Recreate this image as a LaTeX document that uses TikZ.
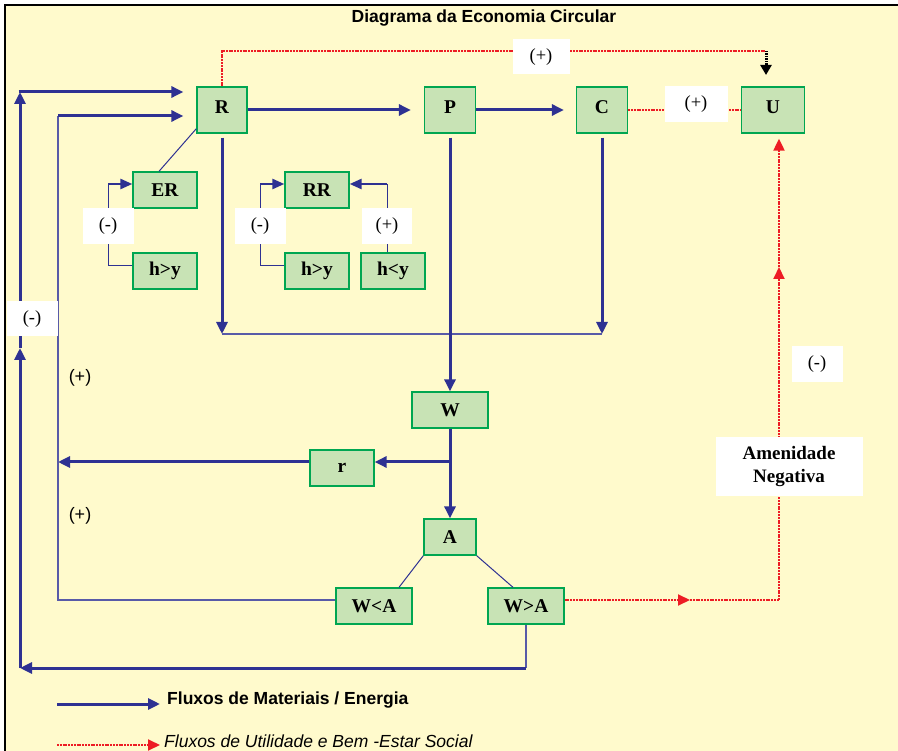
\documentclass[tikz,border=0pt]{standalone}
\usepackage{fontspec}
\setmainfont{Liberation Serif}
\setsansfont{Liberation Sans}
\usetikzlibrary{arrows.meta}
\usetikzlibrary{calc}
\definecolor{bgyellow}{RGB}{255,250,204}
\definecolor{boxgreen}{RGB}{200,227,181}
\definecolor{edgegreen}{RGB}{0,166,81}
\definecolor{flowblue}{RGB}{46,49,146}
\definecolor{utilred}{RGB}{237,28,36}

\begin{document}
\begin{tikzpicture}[x=1pt, y=-1pt,
        node_style/.style={rectangle,draw=edgegreen,line width=1.3pt,fill=boxgreen,inner sep=0pt,minimum width=64pt,minimum height=36pt,font=\fontsize{19.5}{22}\selectfont\bfseries},
        tall_node_style/.style={node_style,minimum width=51pt,minimum height=46pt,text depth=6.5pt},
        sign_style/.style={rectangle,fill=white,inner sep=0pt,minimum width=51pt,minimum height=36pt,font=\fontsize{18.5}{20}\selectfont},
        plain_sign_style/.style={inner sep=0pt,font=\sffamily\fontsize{18}{20}\selectfont},
        title_style/.style={inner sep=0pt,font=\sffamily\fontsize{17.5}{20}\selectfont\bfseries},
        legend_style/.style={inner sep=0pt,anchor=west,font=\sffamily\fontsize{17.5}{20}\selectfont},
        flow_style/.style={draw=flowblue, line width=3pt, -{Triangle[length=12pt,width=11pt]}},
        feedback_style/.style={draw=flowblue, line width=2.5pt, -{Triangle[length=12pt,width=10pt]}},
        link_style/.style={draw=flowblue, line width=1pt},
        loop_style/.style={draw=flowblue!80, line width=1.6pt},
        util_style/.style={draw=utilred, line width=2pt, dash pattern=on 2pt off 0.8pt},
        util_arrow_style/.style={util_style, -{Triangle[length=12pt,width=11pt]}},
        pointer_style/.style={draw=black, line width=3pt, dash pattern=on 1.5pt off 1pt, -{Triangle[length=10pt,width=11pt]}}]

        \useasboundingbox (0,0) rectangle (898,751);
        \fill [bgyellow] (5,5) rectangle (898,751);
        \draw [black, line width=2pt] (5,751) -- (5,5) -- (898,5);

        \node [title_style] (title) at (484,18) {Diagrama da Economia Circular};

        \node [tall_node_style, minimum width=50pt] (R) at (222,110) {R};

        \node [tall_node_style] (P) at (450,110) {P};

        \node [tall_node_style] (C) at (602,110) {C};

        \node [tall_node_style, minimum width=63pt] (U) at (773,110) {U};

        \node [node_style] (ER) at (165,190) {ER};

        \node [node_style] (hgy_er) at (165,271) {h>y};

        \node [node_style] (RR) at (317,190) {RR};

        \node [node_style] (hgy_rr) at (317,271) {h>y};

        \node [node_style] (hly_rr) at (393,271) {h<y};

        \node [node_style, minimum width=76pt] (W) at (450,410) {W};

        \node [node_style] (r) at (342,468) {r};

        \node [node_style, minimum width=52pt] (A) at (450,537) {A};

        \node [node_style, minimum width=76pt] (WlA) at (374,606) {W<A};

        \node [node_style, minimum width=76pt] (WgA) at (526,606) {W>A};

        \coordinate (out_tl) at (20,92);
        \coordinate (out_mid) at (20,348);
        \coordinate (out_bl) at (20,668);
        \coordinate (out_br) at (526,668);
        \coordinate (in_tl) at (58,116);
        \coordinate (in_r) at (58,462);
        \coordinate (in_bl) at (58,600);
        \coordinate (w_r) at (450,462);
        \coordinate (r_down) at (222,334);
        \coordinate (c_down) at (602,334);
        \coordinate (er_top) at (108,184);
        \coordinate (er_bot) at (108,266);
        \coordinate (rr_top) at (260,184);
        \coordinate (rr_bot) at (260,266);
        \coordinate (rr_right) at (387,184);
        \coordinate (amen_mid) at (690,600);
        \coordinate (amen_corner) at (779,600);
        \coordinate (amen_up) at (779,267);
        \coordinate (top_left) at (222,51);
        \coordinate (top_right) at (766,51);
        \coordinate (top_tip) at (766,75);

        \draw [flow_style, shorten >=13pt] (R.east) -- (P.west);

        \draw [flow_style, shorten >=12pt] (P.east) -- (C.west);

        \draw [flow_style] ([yshift=-4pt]R.south) -- (r_down);

        \draw [loop_style] (r_down) -- (c_down);

        \draw [flow_style] ([yshift=-4pt]C.south) -- (c_down);

        \draw [flow_style] ([yshift=-4pt]P.south) -- (W.north);

        \draw [flow_style] (W.south) -- (A.north);

        \draw [flow_style] (w_r) -- (r.east |- w_r);

        \draw [flow_style] (r.west |- in_r) -- (in_r);

        \draw [link_style] ([yshift=5pt]R.south west) -- ([xshift=-6pt]ER.north);

        \draw [link_style] (hgy_er.west |- er_bot) -- (er_bot) -- (er_top);

        \draw [feedback_style] (er_top) -- (ER.west |- er_top);

        \draw [link_style] (hgy_rr.west |- rr_bot) -- (rr_bot) -- (rr_top);

        \draw [feedback_style] (rr_top) -- (RR.west |- rr_top);

        \draw [link_style] (hly_rr.north -| rr_right) -- (rr_right);

        \draw [feedback_style] (rr_right) -- (RR.east |- rr_right);

        \draw [link_style] (A.south west) -- ([xshift=25pt]WlA.north);

        \draw [link_style] (A.south east) -- ([xshift=-13pt]WgA.north);

        \draw [loop_style] (WlA.west |- in_bl) -- (in_bl) -- (in_tl);

        \draw [flow_style, shorten >=13pt] (in_tl) -- (R.west |- in_tl);

        \draw [loop_style] (WgA.south) -- (out_br);

        \draw [flow_style] (out_br) -- (out_bl);

        \draw [flow_style] (out_bl) -- (out_mid);

        \draw [flow_style] (out_mid) -- (out_tl);

        \draw [flow_style, shorten >=13pt] ([xshift=-1.5pt]out_tl) -- (R.west |- out_tl);

        \draw [util_arrow_style] (WgA.east |- amen_mid) -- (amen_mid);

        \draw [util_style] (amen_mid) -- (amen_corner);

        \draw [util_arrow_style] (amen_corner) -- (amen_up);

        \draw [util_arrow_style, shorten >=5pt] (amen_up) -- (amen_corner |- U.south);

        \draw [util_style] (R.north) -- (top_left) -- (top_right);

        \draw [pointer_style] (top_right) -- (top_tip);

        \draw [util_style] (C.east) -- (U.west);

        \node [sign_style, minimum width=57pt, minimum height=35pt] (s_top) at (541,57) {(+)};

        \node [sign_style, minimum width=63pt] (s_cu) at (696,104) {(+)};

        \node [sign_style, minimum height=35pt] (s_out) at (32,319) {(-)};

        \node [sign_style] (s_er) at (108,226) {(-)};

        \node [sign_style] (s_rr1) at (260,226) {(-)};

        \node [sign_style, minimum width=50pt] (s_rr2) at (387,226) {(+)};

        \node [sign_style] (s_amen) at (817,364) {(-)};

        \node [sign_style, minimum width=147pt, minimum height=59pt, align=center, font=\fontsize{19}{23}\selectfont\bfseries] (amen) at (789,467) {Amenidade\\Negativa};

        \node [plain_sign_style] (p_in1) at (80,378) {(+)};

        \node [plain_sign_style] (p_in2) at (80,516) {(+)};

        \coordinate (leg_flow_a) at (57,704);
        \coordinate (leg_flow_b) at (160,704);
        \coordinate (leg_util_a) at (57,745);
        \coordinate (leg_util_b) at (160,745);

        \draw [flow_style] (leg_flow_a) -- (leg_flow_b);

        \node [legend_style, font=\sffamily\fontsize{17.5}{20}\selectfont\bfseries] (leg_flow) at (167,700) {Fluxos de Materiais / Energia};

        \draw [util_arrow_style] (leg_util_a) -- (leg_util_b);

        \node [legend_style, font=\sffamily\fontsize{17.5}{20}\selectfont\itshape] (leg_util) at (164,741) {Fluxos de Utilidade e Bem -Estar Social};

        \end{tikzpicture}
\end{document}
